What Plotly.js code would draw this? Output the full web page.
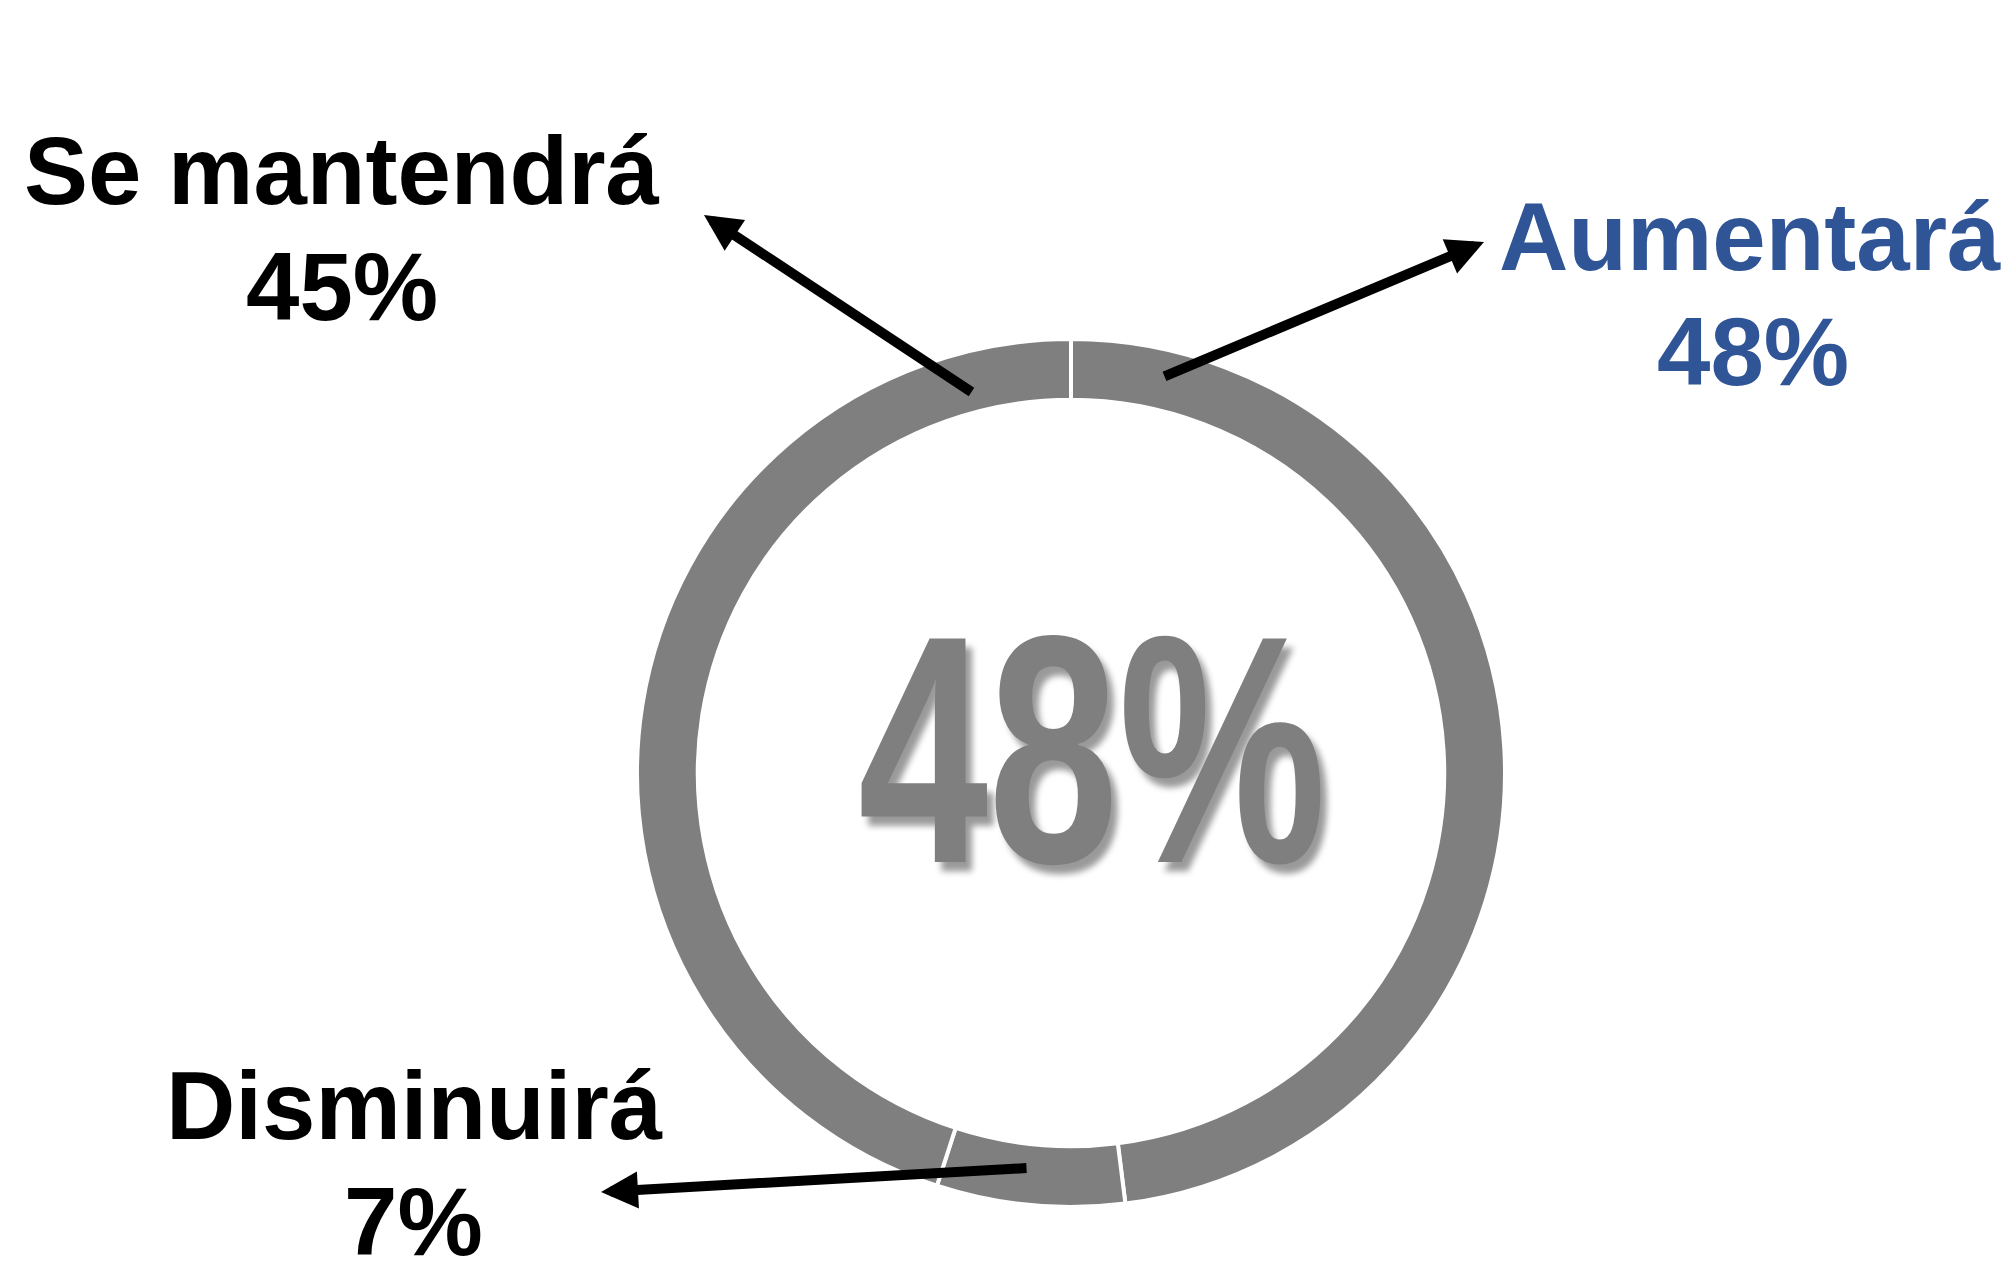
<!DOCTYPE html>
<html>
<head>
<meta charset="utf-8">
<script src="https://cdn.plot.ly/plotly-3.0.1.min.js"></script>
<style>
html,body{margin:0;padding:0;background:#fff;}
#chart{width:2015px;height:1261px;}
.center-narrow text.annotation-text{transform:scaleX(0.72);transform-box:fill-box;transform-origin:center;}
</style>
</head>
<body>
<div id="chart"></div>
<script>
// ---- data ----
const categories = ['Aumentará', 'Disminuirá', 'Se mantendrá'];
const values = [48, 7, 45];
const highlightIndex = 0; // value shown in the centre

// ---- styles / placement ----
const W = 2015, H = 1261;
const px = x => x / W;
const py = y => 1 - y / H;
const labelColors = ['#2F5597', '#000000', '#000000'];
const namePos = [[1750, 236], [414, 1105], [341, 171]];
const pctPos = [[1753, 351], [413, 1221], [342, 287]];
const arrowTip = [[1484, 242], [601, 1192], [704, 215]];
const arrowTail = [[1163, 377], [1028, 1168], [973, 393]];
const centerPos = [1092, 749];
const labelFont = 'Liberation Sans, Arial, sans-serif';

const trace = {
  type: 'pie',
  labels: categories,
  values: values,
  sort: false,
  direction: 'clockwise',
  rotation: 0,
  hole: 0.86,
  textinfo: 'none',
  hoverinfo: 'none',
  showlegend: false,
  marker: {colors: categories.map(() => '#7F7F7F'), line: {color: '#FFFFFF', width: 4}},
  domain: {x: [637 / W, 1505 / W], y: [py(1207), py(339)]}
};

const annotations = [];
categories.forEach((c, i) => {
  annotations.push({
    xref: 'paper', yref: 'paper', x: px(namePos[i][0]), y: py(namePos[i][1]),
    xanchor: 'center', yanchor: 'middle', showarrow: false, text: '<b>' + c + '</b>',
    font: {family: labelFont, size: 96, color: labelColors[i]}
  });
  annotations.push({
    xref: 'paper', yref: 'paper', x: px(pctPos[i][0]), y: py(pctPos[i][1]),
    xanchor: 'center', yanchor: 'middle', showarrow: false, text: '<b>' + values[i] + '%</b>',
    font: {family: labelFont, size: 96, color: labelColors[i]}
  });
  annotations.push({
    xref: 'paper', yref: 'paper', x: px(arrowTip[i][0]), y: py(arrowTip[i][1]),
    ax: arrowTail[i][0] - arrowTip[i][0], ay: arrowTail[i][1] - arrowTip[i][1],
    text: '', showarrow: true, arrowhead: 2, arrowsize: 0.74, arrowwidth: 10,
    arrowcolor: '#000000', standoff: 0, startstandoff: 0
  });
});
const centerIndex = annotations.length;
annotations.push({
  xref: 'paper', yref: 'paper', x: px(centerPos[0]), y: py(centerPos[1]),
  xanchor: 'center', yanchor: 'middle', showarrow: false,
  text: '<b>' + values[highlightIndex] + '%</b>',
  font: {family: 'Liberation Sans, Arial, sans-serif', size: 325,
         color: '#7F7F7F', shadow: '8px 8px 7px rgba(0,0,0,0.4)'}
});

const layout = {
  width: W, height: H,
  margin: {l: 0, r: 0, t: 0, b: 0},
  paper_bgcolor: '#FFFFFF', plot_bgcolor: '#FFFFFF',
  annotations: annotations
};

Plotly.newPlot('chart', [trace], layout, {displayModeBar: false, staticPlot: true}).then(gd => {
  const g = gd.querySelector('g.annotation[data-index="' + centerIndex + '"]');
  if (g) g.classList.add('center-narrow');
});
</script>
</body>
</html>
